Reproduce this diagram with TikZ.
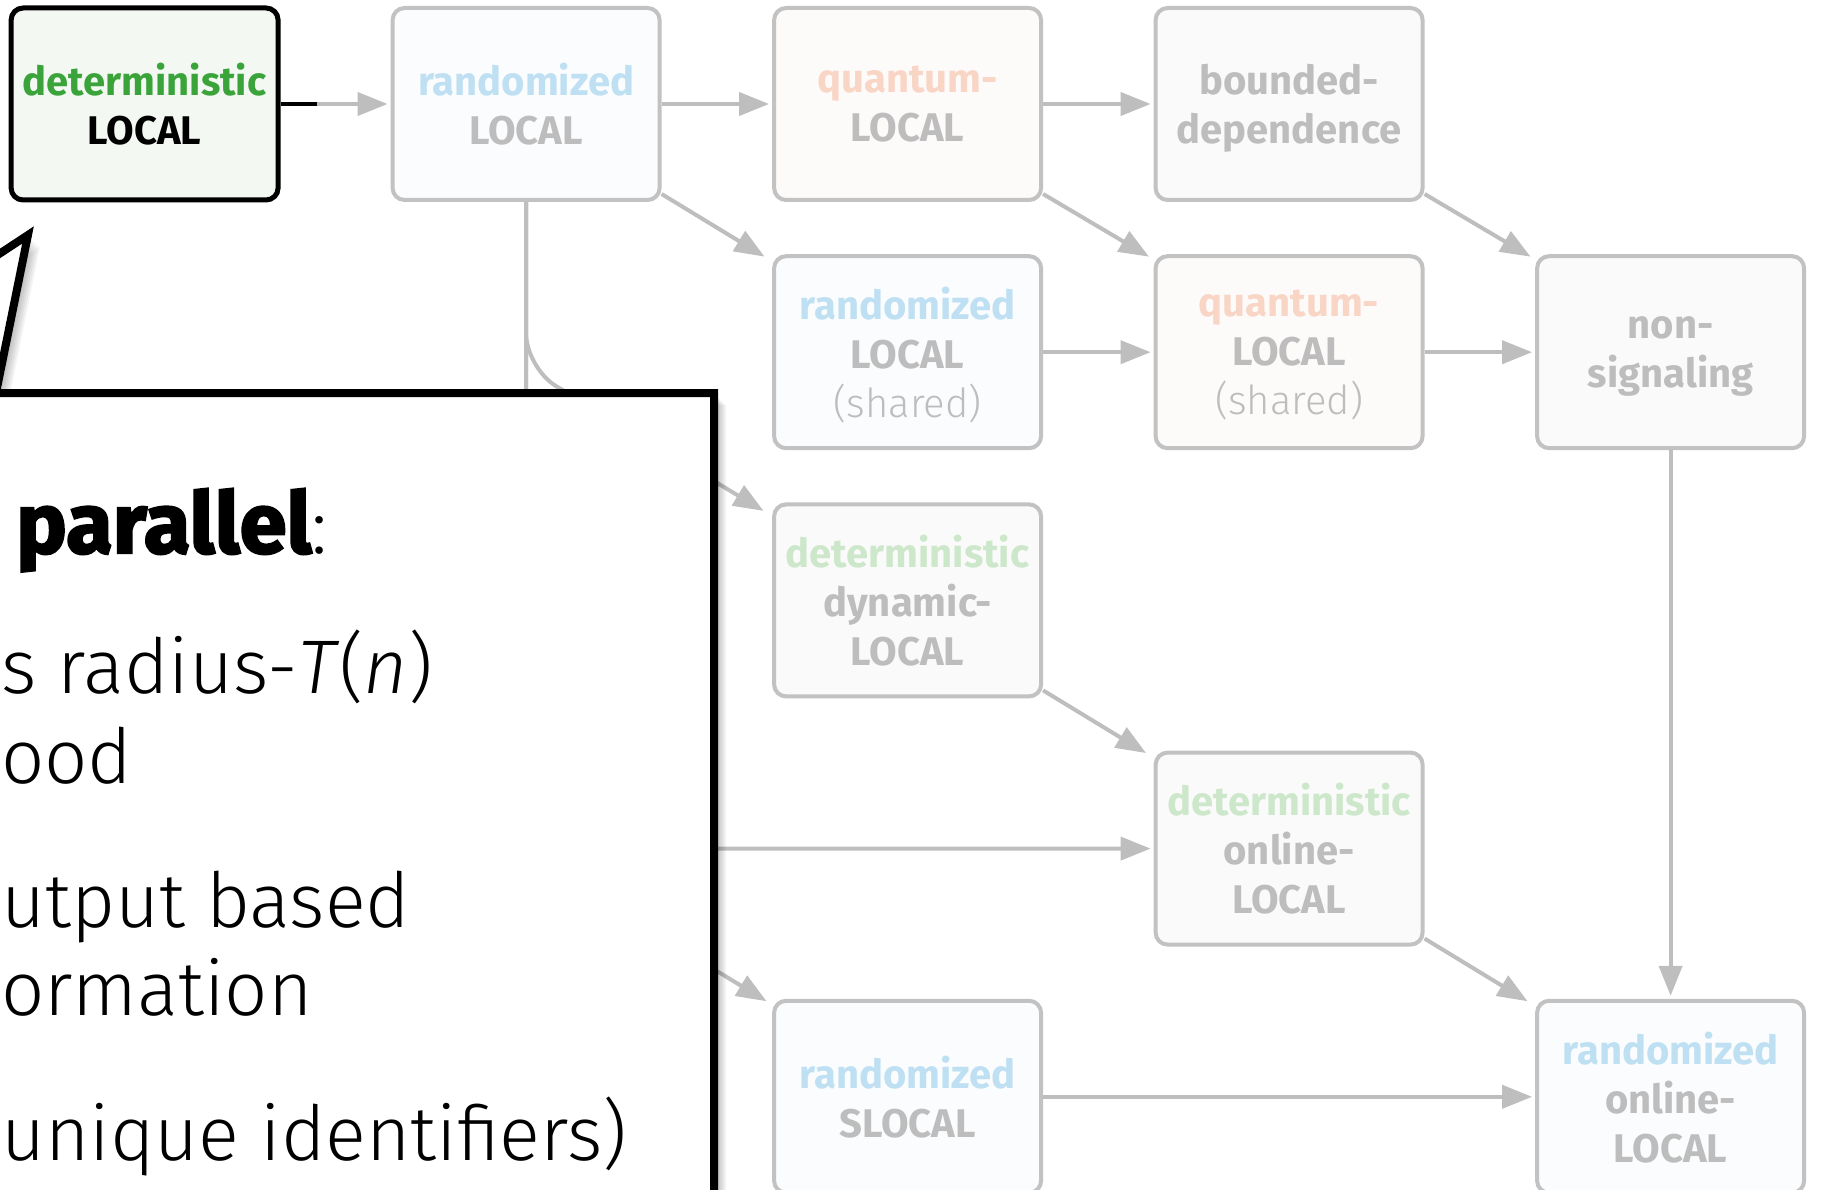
\documentclass[tikz,border=0pt]{standalone}
\usepackage{fontspec}
\setmainfont{Fira Sans}
\newfontfamily\lightfont{Fira Sans Light}[ItalicFont={Fira Sans Light Italic}]
\newfontfamily\heavyfont{Fira Sans Bold}[FakeBold=2.5]
\usetikzlibrary{arrows.meta,backgrounds}

\definecolor{boxline}{HTML}{C2C2C2}
\definecolor{connline}{HTML}{BEBEBE}
\definecolor{labelgray}{HTML}{BDBDBD}
\definecolor{detgreen}{HTML}{3AA33A}
\definecolor{detfaded}{HTML}{CDE7CB}
\definecolor{randblue}{HTML}{BEE0F2}
\definecolor{quantpeach}{HTML}{F9D5C5}
\definecolor{greenfill}{HTML}{F3F8F2}
\definecolor{bluefill}{HTML}{FAFCFE}
\definecolor{pinkfill}{HTML}{FDFAFA}
\definecolor{grayfill}{HTML}{FAFAFA}

\begin{document}
\begin{tikzpicture}[x=1pt,y=-1pt,
  model/.style={draw=boxline, line width=4pt, rounded corners=12pt,
    minimum width=267pt, minimum height=192pt, inner sep=0pt,
    align=center, text=labelgray, text depth=0pt,
    font=\bfseries\fontsize{40}{49}\selectfont},
  randbox/.style={model, fill=bluefill},
  quantbox/.style={model, fill=pinkfill},
  plainbox/.style={model, fill=grayfill},
  conn/.style={draw=connline, line width=4pt,
    -{Triangle[length=30pt,width=23pt]}, shorten >=3pt},
  calloutshape/.style={insert path={(-400,1320) -- (-400,393) -- (-212,393)
    -- (28,235) -- (-4,393) -- (714,393) -- (714,1320) -- cycle}},
  bigtext/.style={inner sep=0pt, anchor=base west,
    font=\lightfont\fontsize{76}{89}\selectfont}
]
\useasboundingbox (0,0) rectangle (1821,1190);
\clip (0,0) rectangle (1821,1190);

% models of computation, laid out on a grid
\node[model, draw=black, line width=5pt, fill=greenfill, text=black]
  (dl) at (144.6,104) {{\color{detgreen}deterministic}\\LOCAL};
\node[randbox]  (rl) at (526.1,104) {{\color{randblue}randomized}\\LOCAL};
\node[quantbox] (ql) at (907.6,104) {{\color{quantpeach}quantum-}\\LOCAL};
\node[plainbox] (bd) at (1289.1,104) {bounded-\\dependence};

\node[randbox]  (rs) at (907.6,352.2)
  {{\color{randblue}randomized}\\LOCAL\\{\mdseries\lightfont(shared)}};
\node[quantbox] (qs) at (1289.1,352.2)
  {{\color{quantpeach}quantum-}\\LOCAL\\{\mdseries\lightfont(shared)}};
\node[plainbox] (ns) at (1670.6,352.2) {non-\\signaling};

\node[plainbox] (dd) at (907.6,600.4)
  {{\color{detfaded}deterministic}\\dynamic-\\LOCAL};
\node[plainbox] (do) at (1289.1,848.6)
  {{\color{detfaded}deterministic}\\online-\\LOCAL};
\node[randbox]  (sl) at (907.6,1096.8) {{\color{randblue}randomized}\\SLOCAL};
\node[randbox]  (ro) at (1670.6,1096.8)
  {{\color{randblue}randomized}\\online-\\LOCAL};

% simulation arrows
\begin{scope}[on background layer]
  \draw[conn] (dl.east) -- (rl.west);
  \draw[line width=4pt, black] (dl.east) -- ++(36,0);
  \draw[conn] (rl.east) -- (ql.west);
  \draw[conn] (ql.east) -- (bd.west);
  \draw[conn] ([yshift=8pt]rl.south east) -- ([xshift=-5pt,yshift=-4pt]rs.north west);
  \draw[conn] ([yshift=8pt]ql.south east) -- ([xshift=-2pt,yshift=-4pt]qs.north west);
  \draw[conn] ([yshift=8pt]bd.south east) -- ([xshift=-2pt,yshift=-4pt]ns.north west);
  \draw[conn] (rs.east) -- (qs.west);
  \draw[conn] (qs.east) -- (ns.west);
  \draw[conn] (ns.south) -- (ro.north);
  \draw[conn] ([yshift=8pt]dd.south east) -- ([xshift=-5pt,yshift=-4pt]do.north west);
  \draw[conn] ([yshift=8pt]do.south east) -- ([xshift=-5pt,yshift=-4pt]ro.north west);
  \draw[conn] (sl.east) -- (ro.west);
  % trunk leaving randomized LOCAL downwards
  \coordinate (j1) at (526,368);
  \coordinate (j2) at (526,848.6);
  \coordinate (j3) at (526,855);
  \draw[conn, rounded corners=35pt] (rl.south) -- (j1)
    -- ([xshift=-6pt,yshift=-10pt]dd.north west);
  \draw[conn, rounded corners=35pt] (rl.south) -- (j2) -- (do.west);
  \draw[conn, rounded corners=35pt] (rl.south) -- (j3)
    -- ([xshift=-3pt,yshift=-4pt]sl.north west);
\end{scope}

% callout with a soft drop shadow
\foreach \s in {1.5,3,...,12}
  \fill[black, opacity=0.045, shift={(\s,\s)}] [calloutshape];
\filldraw[fill=white, draw=black, line width=8pt, line join=miter] [calloutshape];

\node[inner sep=0pt, anchor=base west] (t0) at (16,553)
  {{\heavyfont\fontsize{85}{89}\selectfont parallel}{\lightfont\fontsize{78}{89}\selectfont :}};
\node[bigtext] (t1) at (1,693) {s radius-\textit{T}(\textit{n})};
\node[bigtext] (t2) at (1,783) {ood};
\node[bigtext] (t3) at (1,927) {utput based};
\node[bigtext] (t4) at (1,1015) {ormation};
\node[bigtext] (t5) at (1,1160) {unique identifiers)};
\end{tikzpicture}
\end{document}
